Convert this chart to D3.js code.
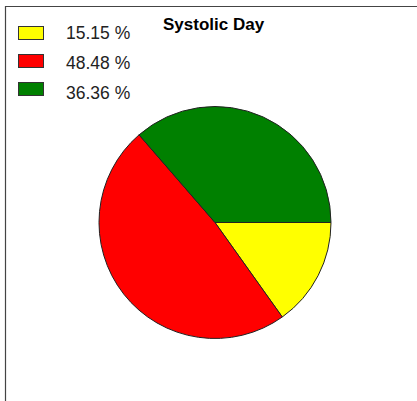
<!DOCTYPE html>
<html>
<head>
<meta charset="utf-8">
<script src="https://cdn.jsdelivr.net/npm/d3@7"></script>
<style>
  body { margin: 0; background: #fff; }
  text { font-family: "Liberation Sans", Arial, sans-serif; }
</style>
</head>
<body>
<script>
// chart data
var categories = ["Low", "High", "Normal"];
var values = [15.15, 48.48, 36.36];
var colours = ["#ffff00", "#ff0000", "#008000"];
var title = "Systolic Day";

var width = 417, height = 401;

var svg = d3.select("body")
  .append("svg")
    .attr("width", width)
    .attr("height", height);

// frame (only top and left edges are visible in the window)
svg.append("path")
  .attr("d", "M5.5," + height + "V6.5H" + width)
  .attr("fill", "none")
  .attr("stroke", "#444")
  .attr("stroke-width", 1.2);

svg.append("text")
  .attr("x", 163)
  .attr("y", 29.5)
  .attr("font-size", "17px")
  .attr("font-weight", "bold")
  .attr("fill", "#000")
  .text(title);

// pie, starting at 3 o'clock and going clockwise
var radius = 116;
var pie = d3.pie()
  .sort(null)
  .value(function(d) { return d; })
  .startAngle(Math.PI / 2)
  .endAngle(Math.PI / 2 + 2 * Math.PI);

var arc = d3.arc().innerRadius(0).outerRadius(radius);

var canvas = svg.append("g")
  .attr("transform", "translate(215,222.5)");

canvas.selectAll("path")
  .data(pie(values))
  .enter()
    .append("path")
      .attr("d", arc)
      .attr("fill", function(d, i) { return colours[i]; })
      .attr("stroke", "#222")
      .attr("stroke-width", 1);

// legend
var legend = svg.append("g");

legend.selectAll("rect")
  .data(values)
  .enter()
    .append("rect")
      .attr("x", 18.5)
      .attr("y", function(d, i) { return 26 + i * 28 + 0.5; })
      .attr("width", 25)
      .attr("height", 13)
      .attr("fill", function(d, i) { return colours[i]; })
      .attr("stroke", "#333")
      .attr("stroke-width", 1);

legend.selectAll("text")
  .data(values)
  .enter()
    .append("text")
      .attr("x", 66)
      .attr("y", function(d, i) { return 39 + i * 30; })
      .attr("font-size", "17.5px")
      .attr("fill", "#222")
      .text(function(d) { return d3.format(".2f")(d) + " %"; });
</script>
</body>
</html>
